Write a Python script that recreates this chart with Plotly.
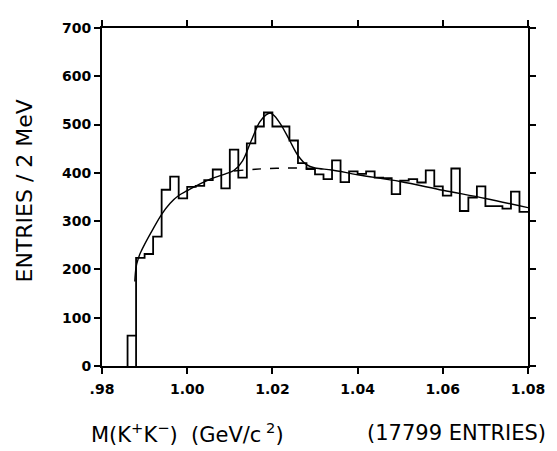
import plotly.graph_objects as go

# Histogram: 2 MeV bins starting at 0.986 GeV
bin_start = 0.986
bin_width = 0.002
counts = [63, 224, 232, 268, 365, 392, 347, 371, 373, 385,
          407, 368, 448, 390, 461, 496, 525, 496, 496, 467,
          420, 408, 397, 387, 426, 381, 403, 398, 403, 390,
          389, 356, 384, 387, 380, 405, 372, 353, 409, 321,
          349, 372, 331, 331, 326, 361, 319]

# Fitted curve (signal + background)
fit_x = [0.9877, 0.9880, 0.9885, 0.9890, 0.9900, 0.9920, 0.9940, 0.9960, 0.9980,
         1.0000, 1.0030, 1.0060, 1.0090, 1.0110, 1.0130, 1.0150, 1.0170, 1.0185,
         1.0195, 1.0205, 1.0220, 1.0240, 1.0260, 1.0280, 1.0300, 1.0340, 1.0400,
         1.0500, 1.0600, 1.0700, 1.0800]
fit_y = [175, 205, 222, 234, 252, 284, 314, 337, 353,
         363, 377, 389, 398, 405, 425, 466, 505, 520,
         524, 518, 500, 468, 436, 417, 410, 406, 396,
         382, 364, 347, 328]

# Background only (dashed) under the peak
bg_x = [1.011, 1.016, 1.021, 1.026, 1.031]
bg_y = [404, 407.5, 409.5, 410, 409]

x_ticks = [0.98, 1.00, 1.02, 1.04, 1.06, 1.08]
x_ticktext = [".98", "1.00", "1.02", "1.04", "1.06", "1.08"]
y_ticks = [0, 100, 200, 300, 400, 500, 600, 700]

edges = [bin_start + i * bin_width for i in range(len(counts) + 1)]
step_x = [edges[0]] + edges
step_y = [0] + counts + [counts[-1]]

fig = go.Figure()
fig.add_trace(go.Scatter(x=step_x, y=step_y, mode="lines", line_shape="hv",
                         line=dict(color="black", width=1.8), hoverinfo="skip"))
fig.add_trace(go.Scatter(x=[edges[1], edges[1]], y=[0, counts[0]], mode="lines",
                         line=dict(color="black", width=1.8), hoverinfo="skip"))
fig.add_trace(go.Scatter(x=fit_x, y=fit_y, mode="lines", line_shape="spline",
                         line=dict(color="black", width=1.4), hoverinfo="skip"))
fig.add_trace(go.Scatter(x=bg_x, y=bg_y, mode="lines", line_shape="spline",
                         line=dict(color="black", width=1.4, dash="dash"), hoverinfo="skip"))

font_ticks = dict(family="DejaVu Sans", size=14, color="black", weight="bold")
title_font = dict(family="DejaVu Sans", size=21, color="black")
fig.update_layout(
    width=549, height=443,
    margin=dict(l=94, r=25, t=13, b=85),
    paper_bgcolor="white", plot_bgcolor="white",
    showlegend=False,
    xaxis=dict(range=[0.98, 1.08], tickvals=x_ticks, ticktext=x_ticktext,
               ticks="outside", ticklen=6, tickwidth=2, tickcolor="black",
               showline=True, linewidth=2, linecolor="black", mirror="ticks",
               showgrid=False, zeroline=False, tickfont=font_ticks,
               ticklabelstandoff=3),
    yaxis=dict(range=[0, 700], tickvals=y_ticks,
               ticks="outside", ticklen=6, tickwidth=2, tickcolor="black",
               showline=True, linewidth=2, linecolor="black", mirror="ticks",
               showgrid=False, zeroline=False, tickfont=font_ticks),
    annotations=[
        dict(text="M(K<sup>+</sup>K<sup>−</sup>)\u00a0 (GeV/c<sup> 2</sup>)", xref="paper", yref="paper",
             x=-0.030, y=-0.197, xanchor="left", yanchor="middle", showarrow=False,
             font=title_font),
        dict(text="(17799 ENTRIES)", xref="paper", yref="paper",
             x=1.0465, y=-0.197, xanchor="right", yanchor="middle", showarrow=False,
             font=title_font),
        dict(text="ENTRIES / 2 MeV", xref="paper", yref="paper",
             x=-0.181, y=0.519, xanchor="center", yanchor="middle", showarrow=False,
             textangle=-90, font=dict(family="DejaVu Sans", size=22, color="black")),
    ],
)

fig.write_html("out.html")
